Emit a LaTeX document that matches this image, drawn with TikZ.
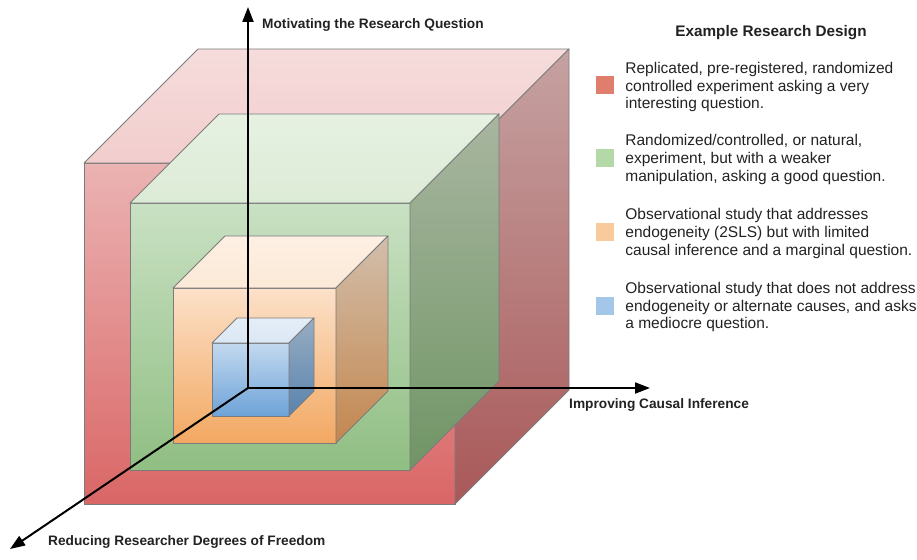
\documentclass[tikz,border=0pt]{standalone}
\usepackage{fontspec}
\setmainfont{Liberation Sans}
\usetikzlibrary{arrows.meta,positioning}

% face colours: lid = top face, front/side go light (a) to dark (b)
\definecolor{redlid}{HTML}{F2CDCD}
\definecolor{redfronta}{HTML}{EBB3B3}
\definecolor{redfrontb}{HTML}{DA6666}
\definecolor{redsidea}{HTML}{C6A2A2}
\definecolor{redsideb}{HTML}{A95858}
\definecolor{greenlid}{HTML}{DCEBD6}
\definecolor{greenfronta}{HTML}{C9E1C3}
\definecolor{greenfrontb}{HTML}{90BE83}
\definecolor{greensidea}{HTML}{A8B6A0}
\definecolor{greensideb}{HTML}{709565}
\definecolor{orangelid}{HTML}{FCE9D7}
\definecolor{orangefronta}{HTML}{FCE1C9}
\definecolor{orangefrontb}{HTML}{F2A862}
\definecolor{orangesidea}{HTML}{D2BEAB}
\definecolor{orangesideb}{HTML}{C3874F}
\definecolor{bluelid}{HTML}{DAE7F4}
\definecolor{bluefronta}{HTML}{C2D9EF}
\definecolor{bluefrontb}{HTML}{6EA3D8}
\definecolor{bluesidea}{HTML}{98ADC2}
\definecolor{bluesideb}{HTML}{5983AD}
\definecolor{edgegray}{HTML}{7B7B7B}
\definecolor{inkgray}{HTML}{222222}

% one shaded cube: #1,#2 front top-left corner, #3 width, #4 height, #5 depth, #6 colour prefix
\newcommand{\shadedcube}[6]{%
  \shade[cubeedge, top color=#6fronta, bottom color=#6frontb]
    (#1,#2) rectangle ({#1+#3},{#2+#4});
  \shade[cubeedge, top color=#6lid!70!white, bottom color=#6lid]
    (#1,#2) -- ({#1+#5},{#2-#5}) -- ({#1+#3+#5},{#2-#5}) -- ({#1+#3},#2) -- cycle;
  \shade[cubeedge, top color=#6sidea, bottom color=#6sideb]
    ({#1+#3},#2) -- ({#1+#3+#5},{#2-#5}) -- ({#1+#3+#5},{#2+#4-#5}) -- ({#1+#3},{#2+#4}) -- cycle;
}

\begin{document}
\begin{tikzpicture}
[x=1pt, y=-1pt,
% STYLES
cubeedge/.style={draw=edgegray, line width=0.9pt, line join=round},
axis/.style={line width=2pt, -{Triangle[length=15pt, width=11pt]}},
axislabel/.style={anchor=base west, inner sep=0pt, text=inkgray, font=\fontsize{13.7}{16}\selectfont\bfseries},
% legend squares and their descriptions
key/.style={rectangle, minimum size=18pt, inner sep=0pt},
keytext/.style={anchor=west, inner sep=0pt, align=left, text=inkgray, font=\fontsize{15.5}{17.6}\selectfont, node distance=11pt}]

\useasboundingbox (0,0) rectangle (917,559);

% Draw cubes, outermost first
\shadedcube{84}{163}{371}{341}{114}{red}
\shadedcube{130}{203}{280}{267}{89}{green}
\shadedcube{173}{288}{163}{155}{52}{orange}
\shadedcube{212}{343}{77}{73}{25}{blue}

%%%%%%%%%%%%%%%

% axes
\coordinate (origin) at (248,388);
\coordinate (motivating) at (248,7);
\coordinate (causal) at (650,388);
\coordinate (freedom) at (10,549);

\draw[axis] (origin) -- (motivating);
\draw[axis] (origin) -- (causal);
\draw[axis] (origin) -- (freedom);

\node[axislabel] (label-motivating) at (262,29) {Motivating the Research Question};
\node[axislabel] (label-causal) at (569,408) {Improving Causal Inference};
\node[axislabel] (label-freedom) at (48,545) {Reducing Researcher Degrees of Freedom};

%%%%%%%%%%%%%%%

% legend
\node[text=inkgray, font=\fontsize{15.3}{18}\selectfont\bfseries] (legend-title) at (771,33) {Example Research Design};

\node[key, fill={rgb,255:red,224;green,126;blue,110}] (key-red) at (605,85.5) {};
\node[keytext, right=of key-red, yshift=-1.5pt] (text-red) {Replicated, pre-registered, randomized\\
controlled experiment asking a very\\
interesting question.};

\node[key, fill={rgb,255:red,181;green,216;blue,168}] (key-green) at (605,158) {};
\node[keytext, right=of key-green, yshift=-1.5pt] (text-green) {Randomized/controlled, or natural,\\
experiment, but with a weaker\\
manipulation, asking a good question.};

\node[key, fill={rgb,255:red,249;green,202;blue,156}] (key-orange) at (605,232) {};
\node[keytext, right=of key-orange, yshift=-1.5pt] (text-orange) {Observational study that addresses\\
endogeneity (2SLS) but with limited\\
causal inference and a marginal question.};

\node[key, fill={rgb,255:red,164;green,198;blue,232}] (key-blue) at (605,305.5) {};
\node[keytext, right=of key-blue, yshift=-1.5pt] (text-blue) {Observational study that does not address\\
endogeneity or alternate causes, and asks\\
a mediocre question.};

\end{tikzpicture}
\end{document}
